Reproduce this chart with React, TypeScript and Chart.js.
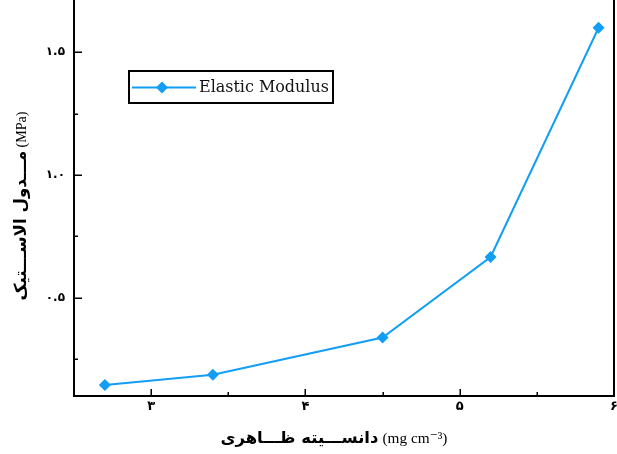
import React, { useEffect, useRef } from 'react';
import { Chart, registerables } from 'chart.js';

Chart.register(...registerables);

// ---- data ----
const densities = [2.7, 3.4, 4.5, 5.2, 5.9];
const modulus = [0.145, 0.187, 0.338, 0.666, 1.6];
const seriesLabel = 'Elastic Modulus';
const xTickValues = [3, 4, 5, 6];
const xTickLabels = ['۳', '۴', '۵', '۶'];
const yTickValues = [0.5, 1.0, 1.5];
const yTickLabels = ['۰.۵', '۱.۰', '۱.۵'];
const xTitleFa = 'دانســـیته ظـــاهری';
const xTitleUnit = '(mg cm⁻³)';
const yTitleFa = 'مـــدول الاســـتیک';
const yTitleUnit = '(MPa)';

const LINE_COLOR = '#139ef5';
const PERSIAN_FONT = "'DejaVu Sans', 'Noto Sans', sans-serif";
const LATIN_SERIF = "'Liberation Serif', 'DejaVu Serif', serif";

function labelFor(v: number, values: number[], labels: string[]): string {
  for (let i = 0; i < values.length; i++) {
    if (Math.abs(v - values[i]) < 1e-6) return labels[i];
  }
  return '';
}

function fitSize(ctx: CanvasRenderingContext2D, text: string, font: (s: number) => string, target: number, base: number) {
  ctx.font = font(base);
  const w = ctx.measureText(text).width;
  let s = (base * target) / w;
  if (s < base * 0.8) s = base * 0.8;
  if (s > base * 1.25) s = base * 1.25;
  return s;
}

// draws a title made of a Persian run (left) and a Latin unit (right), centred at 0,0 along the current x-axis
function drawTitle(ctx: CanvasRenderingContext2D, fa: string, unit: string, faWidth: number, unitWidth: number, gap: number) {
  const ff = (s: number) => `bold ${s}px ${PERSIAN_FONT}`;
  const fu = (s: number) => `${s}px ${LATIN_SERIF}`;
  const sf = fitSize(ctx, fa, ff, faWidth, 16);
  const su = fitSize(ctx, unit, fu, unitWidth, 16);
  const total = faWidth + gap + unitWidth;
  const left = -total / 2;
  ctx.textBaseline = 'alphabetic';
  ctx.textAlign = 'left';
  ctx.direction = 'ltr';
  ctx.font = ff(sf);
  ctx.fillText(fa, left, 6);
  ctx.font = fu(su);
  ctx.fillText(unit, left + faWidth + gap, 6);
}

const decorPlugin = {
  id: 'decor',
  afterDraw(chart: any) {
    const { ctx, chartArea } = chart;
    const xs = chart.scales.x;
    const ys = chart.scales.y;
    ctx.save();
    // right border
    ctx.strokeStyle = '#000';
    ctx.lineWidth = 2;
    ctx.beginPath();
    ctx.moveTo(chartArea.right, chartArea.top);
    ctx.lineTo(chartArea.right, chartArea.bottom + 1);
    ctx.stroke();

    // inward tick marks
    ctx.lineWidth = 1.5;
    xs.ticks.forEach((t: any) => {
      const v = t.value;
      if (v <= xs.min + 1e-6 || v >= xs.max - 1e-6) return;
      const major = Math.abs(v - Math.round(v)) < 1e-6;
      const px = Math.round(xs.getPixelForValue(v)) + 0.25;
      const len = major ? 7 : 4;
      ctx.beginPath();
      ctx.moveTo(px, chartArea.bottom);
      ctx.lineTo(px, chartArea.bottom - len);
      ctx.stroke();
    });
    ys.ticks.forEach((t: any) => {
      const v = t.value;
      if (v <= ys.min + 1e-6 || v >= ys.max - 1e-6) return;
      const major = Math.abs(v * 2 - Math.round(v * 2)) < 1e-6;
      const py = Math.round(ys.getPixelForValue(v)) + 0.25;
      const len = major ? 8 : 4;
      ctx.beginPath();
      ctx.moveTo(chartArea.left, py);
      ctx.lineTo(chartArea.left + len, py);
      ctx.stroke();
    });

    // axis titles
    ctx.fillStyle = '#000';
    ctx.save();
    ctx.translate(334, 437);
    drawTitle(ctx, xTitleFa, xTitleUnit, 158, 65, 4);
    ctx.restore();
    ctx.save();
    ctx.translate(20, 206);
    ctx.rotate(-Math.PI / 2);
    drawTitle(ctx, yTitleFa, yTitleUnit, 150, 36, 3);
    ctx.restore();

    // legend
    const bx = 129, by = 71, bw = 204, bh = 32;
    ctx.fillStyle = '#fff';
    ctx.fillRect(bx, by, bw, bh);
    ctx.strokeStyle = '#000';
    ctx.lineWidth = 2;
    ctx.strokeRect(bx, by, bw, bh);
    const cy = by + bh / 2 + 0.5;
    ctx.strokeStyle = LINE_COLOR;
    ctx.lineWidth = 2;
    ctx.beginPath();
    ctx.moveTo(bx + 3, cy);
    ctx.lineTo(bx + 67, cy);
    ctx.stroke();
    ctx.fillStyle = LINE_COLOR;
    const r = 6;
    const mx = bx + 33;
    ctx.beginPath();
    ctx.moveTo(mx - r, cy);
    ctx.lineTo(mx, cy - r);
    ctx.lineTo(mx + r, cy);
    ctx.lineTo(mx, cy + r);
    ctx.closePath();
    ctx.fill();
    const fl = (s: number) => `${s}px 'DejaVu Serif', serif`;
    const sl = fitSize(ctx, seriesLabel, fl, 130, 14);
    ctx.font = fl(sl);
    ctx.fillStyle = '#111';
    ctx.textAlign = 'left';
    ctx.textBaseline = 'middle';
    ctx.fillText(seriesLabel, bx + 70, cy);
    ctx.restore();
  },
};

export default function App() {
  const ref = useRef<HTMLCanvasElement>(null);
  useEffect(() => {
    document.body.style.margin = '0';
    const canvas = ref.current;
    if (!canvas) return;
    const points = densities.map((x, i) => ({ x, y: modulus[i] }));
    const chart = new Chart(canvas, {
      type: 'line',
      data: {
        datasets: [
          {
            label: seriesLabel,
            data: points,
            borderColor: LINE_COLOR,
            backgroundColor: LINE_COLOR,
            borderWidth: 2,
            pointStyle: 'rectRot',
            pointRadius: 6,
            pointBorderWidth: 0,
            pointBackgroundColor: LINE_COLOR,
            tension: 0,
            fill: false,
            clip: false,
          },
        ],
      },
      options: {
        responsive: false,
        animation: false,
        layout: { autoPadding: false, padding: { left: 0, right: 3, top: 0, bottom: 0 } },
        plugins: { legend: { display: false }, tooltip: { enabled: false } },
        scales: {
          x: {
            type: 'linear',
            min: 2.5,
            max: 6,
            grid: { display: true, drawOnChartArea: false, drawTicks: false },
            border: { display: true, color: '#000', width: 2 },
            ticks: {
              stepSize: 0.5,
              autoSkip: false,
              maxRotation: 0,
              padding: 3,
              color: '#000',
              font: { family: PERSIAN_FONT, size: 13, weight: 'bold' },
              callback: (v: any) => labelFor(Number(v), xTickValues, xTickLabels),
            },
            afterFit: (s: any) => {
              s.height = 58;
              s.paddingLeft = 0;
              s.paddingRight = 0;
            },
          },
          y: {
            type: 'linear',
            min: 0.1,
            max: 1.713,
            grid: { display: true, drawOnChartArea: false, drawTicks: false },
            border: { display: true, color: '#000', width: 2 },
            ticks: {
              stepSize: 0.25,
              autoSkip: false,
              padding: 9,
              color: '#000',
              font: { family: PERSIAN_FONT, size: 12, weight: 'bold' },
              callback: (v: any) => labelFor(Number(v), yTickValues, yTickLabels),
            },
            afterFit: (s: any) => {
              s.width = 74;
              s.paddingTop = 0;
              s.paddingBottom = 0;
            },
          },
        },
      },
      plugins: [decorPlugin],
    } as any);
    return () => chart.destroy();
  }, []);
  return (
    <div style={{ position: 'absolute', left: 0, top: 0, width: 617, height: 454, background: '#fff' }}>
      <canvas ref={ref} width={617} height={454} style={{ width: 617, height: 454, display: 'block' }} />
    </div>
  );
}
